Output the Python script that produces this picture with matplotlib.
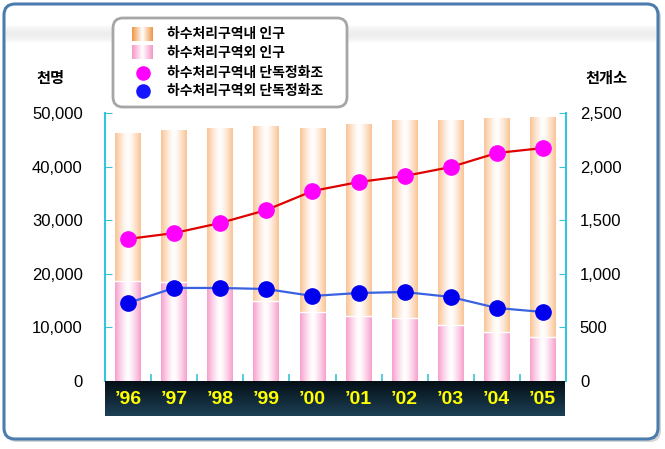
import numpy as np
import matplotlib.pyplot as plt
from matplotlib.patches import FancyBboxPatch

plt.rcParams['font.family'] = ['Liberation Sans', 'Noto Sans CJK KR', 'DejaVu Sans']

# 연도, 인구(천명), 단독정화조(개소)
years = ["’96", "’97", "’98", "’99", "’00", "’01", "’02", "’03", "’04", "’05"]
pop_in = [27600, 28300, 29500, 32500, 34300, 35800, 36800, 38200, 39800, 40900]
pop_out = [18700, 18500, 17500, 14900, 12900, 12100, 11700, 10500, 9100, 8200]
tank_in = [1325, 1380, 1474, 1595, 1772, 1856, 1912, 1996, 2127, 2173]
tank_out = [728, 868, 868, 858, 793, 821, 830, 784, 681, 644]
legend_labels = ["하수처리구역내 인구", "하수처리구역외 인구",
                 "하수처리구역내 단독정화조", "하수처리구역외 단독정화조"]

orange = np.array([250, 196, 150]) / 255
pink = np.array([248, 160, 205]) / 255
cyan = '#38c4d8'
kr = ['Noto Sans CJK KR', 'DejaVu Sans']


def grad(col, n=64, p=1.3):
    t = np.linspace(-1, 1, n)
    f = np.abs(t) ** p
    rgb = (1 - f)[:, None] * np.ones(3) + f[:, None] * col
    return rgb[None, :, :]


fig = plt.figure(figsize=(6.65, 4.49), dpi=100)

# 배경 (픽셀 좌표)
bg = fig.add_axes([0, 0, 1, 1])
bg.axis('off')
bg.add_patch(FancyBboxPatch((6, 6), 655, 436, boxstyle="round,pad=0,rounding_size=11",
                            fc='#b8b8b8', ec='none', alpha=0.6, zorder=1))
bg.add_patch(FancyBboxPatch((4, 4), 654, 435, boxstyle="round,pad=0,rounding_size=11",
                            fc='white', ec='#4a7cae', lw=2.2, zorder=1))
band = np.ones((20, 1, 4))
band[:, 0, :3] = 0.92
band[:, 0, 3] = np.sin(np.linspace(0, np.pi, 20)) * 0.8
bg.imshow(band, extent=[6, 656, 44, 24], aspect='auto', interpolation='bilinear', zorder=2)

# 범례
bg.add_patch(FancyBboxPatch((113, 18), 234, 89, boxstyle="round,pad=0,rounding_size=10",
                            fc='white', ec='#a6a6a6', lw=2, zorder=3))
rows = [34, 52.5, 73, 91]
bg.imshow(grad(np.array([240, 150, 70]) / 255, p=1.0), extent=[132, 153, rows[0] + 7, rows[0] - 7],
          aspect='auto', interpolation='bilinear', zorder=4)
bg.imshow(grad(np.array([245, 150, 200]) / 255, p=1.0), extent=[132, 153, rows[1] + 7, rows[1] - 7],
          aspect='auto', interpolation='bilinear', zorder=4)
bg.scatter([143], [rows[2]], s=90, color='#ff00ff', zorder=4)
bg.scatter([143], [rows[3]], s=90, color='#1515ff', zorder=4)
for r, lab in zip(rows, legend_labels):
    bg.text(167, r, lab, family=kr, fontsize=10, fontweight='bold', va='center', ha='left', zorder=5)

bg.text(50, 78, "천명", family=kr, fontsize=11, fontweight='bold', ha='center', va='center')
bg.text(606, 78, "천개소", family=kr, fontsize=11, fontweight='bold', ha='center', va='center')
bg.set_xlim(0, 665)
bg.set_ylim(449, 0)

# 본 차트
ax = fig.add_axes([105 / 665, 68 / 449, 461 / 665, 268 / 449])
ax.set_facecolor('none')
x = np.arange(len(years))
w = 0.56
for i in x:
    ax.imshow(grad(pink), extent=[i - w / 2, i + w / 2, 0, pop_out[i]],
              aspect='auto', interpolation='bilinear', zorder=2)
    ax.imshow(grad(orange), extent=[i - w / 2, i + w / 2, pop_out[i], pop_out[i] + pop_in[i]],
              aspect='auto', interpolation='bilinear', zorder=2)
    ax.plot([i - w / 2, i + w / 2], [pop_out[i], pop_out[i]], color='white', lw=1, zorder=3)
ax.set_xlim(-0.5, 9.5)
ax.set_ylim(0, 50000)
ax.set_yticks(np.arange(0, 50001, 10000))
ax.set_yticklabels([f"{v:,}" for v in range(0, 50001, 10000)])
ax.set_xticks(x)
ax.set_xticklabels([])
ax.set_xticks(np.arange(0.5, 9, 1), minor=True)
ax.tick_params(axis='x', which='major', length=0)
ax.tick_params(axis='x', which='minor', direction='in', length=5, width=1.2, color=cyan)
ax.tick_params(axis='y', direction='in', length=5, color=cyan, pad=16, labelsize=12)
for s in ['top', 'bottom', 'right']:
    ax.spines[s].set_visible(False)
ax.spines['left'].set_color(cyan)
ax.spines['left'].set_linewidth(1.5)

ax2 = ax.twinx()
ax2.plot(x, tank_in, color='#e00000', lw=1.6, marker='o', ms=11,
         mfc='#ff00ff', mec='#ff00ff', zorder=4)
ax2.plot(x, tank_out, color='#3a62e0', lw=1.6, marker='o', ms=11,
         mfc='#0000ee', mec='#0000ee', zorder=4)
ax2.set_ylim(0, 2500)
ax2.set_xlim(-0.5, 9.5)
ax2.set_yticks(np.arange(0, 2501, 500))
ax2.set_yticklabels([f"{v:,}" for v in range(0, 2501, 500)])
ax2.tick_params(axis='y', direction='in', length=5, color=cyan, pad=10, labelsize=12)
for s in ['top', 'bottom', 'left']:
    ax2.spines[s].set_visible(False)
ax2.spines['right'].set_color(cyan)
ax2.spines['right'].set_linewidth(1.5)

# 연도 띠
axb = fig.add_axes([105 / 665, 33 / 449, 460 / 665, 35 / 449])
dark = np.zeros((30, 1, 3))
dark[:, 0, :] = np.linspace([0.02, 0.06, 0.09], [0.11, 0.25, 0.33], 30)
axb.imshow(dark, extent=[-0.5, 9.5, 0, 1], aspect='auto', interpolation='bilinear')
for i, y in enumerate(years):
    axb.text(i, 0.48, y, color='#ffff00', fontsize=14, fontweight='bold',
             ha='center', va='center')
axb.set_xlim(-0.5, 9.5)
axb.set_ylim(0, 1)
axb.axis('off')

fig.savefig('out.png', dpi=100)
